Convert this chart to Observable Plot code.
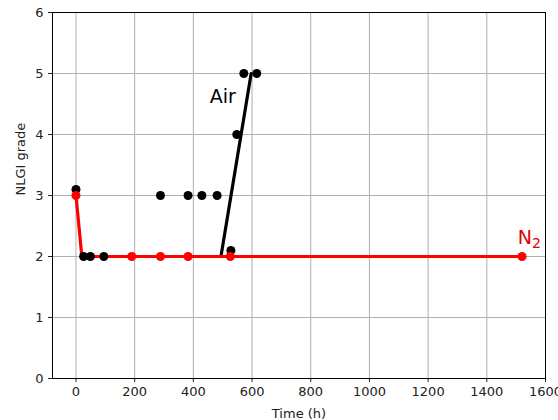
<!DOCTYPE html>
<html>
<head>
<meta charset="utf-8">
<script src="https://cdn.jsdelivr.net/npm/d3@7"></script>
<script src="https://cdn.jsdelivr.net/npm/@observablehq/plot@0.6"></script>
<style>
  html, body { margin: 0; padding: 0; background: #fff; }
  #chart { width: 558px; height: 420px; }
</style>
</head>
<body>
<div id="chart"></div>
<script>
// Air series (black points)
const airTime  = [0, 26, 49, 95, 288, 382, 429, 481, 528, 548, 572, 616];
const airGrade = [3.1, 2, 2, 2, 3, 3, 3, 3, 2.1, 4, 5, 5];
// Air trend line
const airLineTime  = [494, 597];
const airLineGrade = [2, 5];
// N2 series (red points)
const n2Time  = [0, 190, 288, 382, 526, 1520];
const n2Grade = [3, 2, 2, 2, 2, 2];
// N2 trend line
const n2LineTime  = [0, 20, 1520];
const n2LineGrade = [3, 2, 2];
// Tick values
const xTicks = [0, 200, 400, 600, 800, 1000, 1200, 1400, 1600];
const yTicks = [0, 1, 2, 3, 4, 5, 6];
// Annotations
const labels = [
  {t: 500, g: 4.62, text: "Air", color: "black"},
  {t: 1545, g: 2.3, text: "N2", color: "#e00000"}
];

const air = airTime.map((t, i) => ({t, g: airGrade[i]}));
const airLine = airLineTime.map((t, i) => ({t, g: airLineGrade[i]}));
const n2 = n2Time.map((t, i) => ({t, g: n2Grade[i]}));
const n2Line = n2LineTime.map((t, i) => ({t, g: n2LineGrade[i]}));

const svg = Plot.plot({
  width: 558,
  height: 420,
  marginLeft: 52,
  marginRight: 13,
  marginTop: 12,
  marginBottom: 42,
  style: {fontFamily: "DejaVu Sans", fontSize: "13px", color: "#222", background: "white"},
  x: {domain: [-80, 1600]},
  y: {domain: [0, 6]},
  marks: [
    Plot.gridX(xTicks, {stroke: "#b0b0b0", strokeOpacity: 1, strokeWidth: 1}),
    Plot.gridY(yTicks, {stroke: "#b0b0b0", strokeOpacity: 1, strokeWidth: 1}),
    Plot.axisX(xTicks, {tickSize: 4, tickPadding: 4, tickFormat: d3.format("d"), label: null, fontSize: 13}),
    Plot.axisY(yTicks, {tickSize: 4, tickPadding: 5, tickFormat: d3.format("d"), label: null, fontSize: 13}),
    Plot.text(["Time (h)"], {frameAnchor: "bottom", dy: 39, fontSize: 13, fill: "#222"}),
    Plot.text(["NLGI grade"], {frameAnchor: "left", dx: -32, rotate: -90, fontSize: 13, fill: "#222"}),
    Plot.line(airLine, {x: "t", y: "g", stroke: "black", strokeWidth: 3.2}),
    Plot.line(n2Line, {x: "t", y: "g", stroke: "red", strokeWidth: 3.2}),
    Plot.dot(air, {x: "t", y: "g", r: 4.5, fill: "black"}),
    Plot.dot(n2, {x: "t", y: "g", r: 4.5, fill: "red"}),
    Plot.text(labels, {x: "t", y: "g", text: "text", fill: "color", fontSize: 19, fontFamily: "DejaVu Sans"}),
    Plot.frame({stroke: "black", strokeWidth: 1})
  ]
});

// render N2 with a real subscript
d3.select(svg).selectAll("text").filter(function() { return this.textContent === "N2"; })
  .each(function() {
    const el = d3.select(this);
    el.text("N");
    el.append("tspan").attr("dy", "0.3em").attr("font-size", "14").text("2");
  });

document.getElementById("chart").appendChild(svg);
</script>
</body>
</html>
